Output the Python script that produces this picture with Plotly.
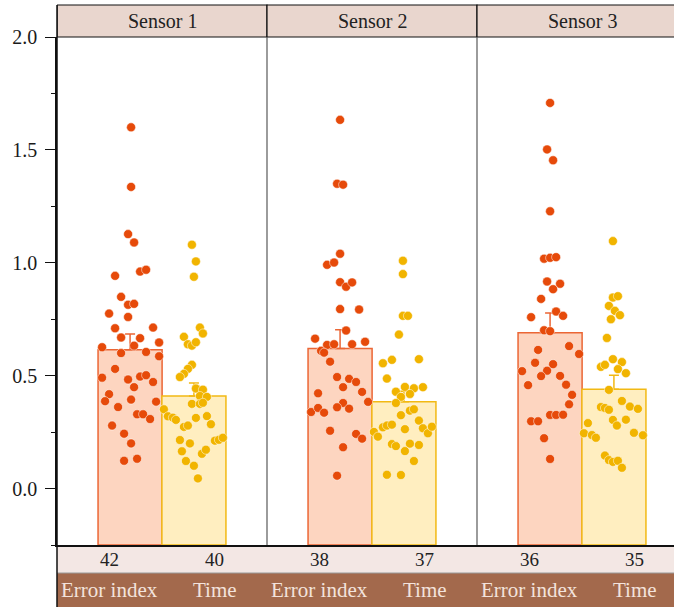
import plotly.graph_objects as go

sensors = ["Sensor 1", "Sensor 2", "Sensor 3"]
measures = ["Error index", "Time"]
counts = [[42, 40], [38, 37], [36, 35]]
means = [[0.615, 0.41], [0.62, 0.384], [0.69, 0.44]]
sems = [[0.07, 0.057], [0.083, 0.047], [0.088, 0.062]]

s1_err = [1.60, 1.336, 1.127, 1.09, 0.942, 0.961, 0.969, 0.849, 0.814, 0.818, 0.775, 0.76, 0.71, 0.713,
          0.669, 0.666, 0.626, 0.633, 0.647, 0.60, 0.605, 0.586, 0.53, 0.491, 0.483, 0.496, 0.502, 0.472,
          0.449, 0.418, 0.387, 0.394, 0.385, 0.361, 0.329, 0.329, 0.308, 0.279, 0.243, 0.20, 0.123, 0.132]
s1_err_j = [1, 1, -2, 4, -15, 10, 16, -9, -2, 4, -21, -2, -15, 23, -9, 10, -28, 4, 29, -9, 16, 29, -15, -28,
            -2, 10, 16, 23, 4, -21, -25, 1, 26, -12, 7, 13, 20, -18, -6, 1, -6, 7]
s1_time = [1.08, 1.006, 0.938, 0.713, 0.687, 0.672, 0.639, 0.633, 0.648, 0.548, 0.53, 0.508, 0.494, 0.443,
           0.438, 0.41, 0.406, 0.375, 0.375, 0.38, 0.351, 0.32, 0.314, 0.304, 0.313, 0.321, 0.285, 0.273,
           0.279, 0.215, 0.20, 0.212, 0.216, 0.225, 0.165, 0.154, 0.172, 0.122, 0.101, 0.045]
s1_time_j = [-2, 2, 0, 6, 9, -10, -6, -2, 2, -2, -6, -10, -14, 2, 9, 6, 13, -2, 6, 9, -30, -26, -21, -18, 2,
             13, 17, -10, -6, -14, -4, 21, 25, 29, -12, 8, 12, -8, 0, 4]
s2_err = [1.633, 1.35, 1.346, 1.04, 0.991, 1.001, 0.914, 0.894, 0.913, 0.795, 0.793, 0.70, 0.664, 0.636,
          0.639, 0.639, 0.65, 0.61, 0.602, 0.562, 0.494, 0.486, 0.472, 0.449, 0.428, 0.422, 0.384, 0.379,
          0.339, 0.357, 0.336, 0.36, 0.354, 0.256, 0.242, 0.221, 0.183, 0.057]
s2_err_j = [0, -3, 3, 0, -13, -6, 0, 6, 12, 0, 19, 6, -25, -13, -6, 12, 25, -19, -16, -10, -3, 9, 16, 3, 22,
            -22, 28, 3, -29, -22, -16, -3, 9, -10, 16, 22, 3, -3]
s2_time = [1.009, 0.95, 0.765, 0.765, 0.682, 0.555, 0.57, 0.573, 0.487, 0.429, 0.45, 0.444, 0.449, 0.406,
           0.419, 0.379, 0.345, 0.351, 0.325, 0.301, 0.251, 0.23, 0.271, 0.279, 0.283, 0.263, 0.267, 0.245,
           0.274, 0.197, 0.188, 0.199, 0.193, 0.166, 0.122, 0.061, 0.06]
s2_time_j = [-1, -1, -1, 4, -5, -21, -12, 15, -17, -8, 1, 10, 19, -3, 6, -8, 6, 10, -3, 15, -30, -26, -21,
             -17, -12, 1, 19, 24, 28, -12, -8, 6, 15, 1, 10, -17, -3]
s3_err = [1.708, 1.502, 1.454, 1.228, 1.018, 1.022, 1.025, 0.917, 0.907, 0.883, 0.84, 0.784, 0.759, 0.765,
          0.701, 0.697, 0.614, 0.631, 0.596, 0.557, 0.551, 0.52, 0.522, 0.498, 0.499, 0.458, 0.46, 0.415,
          0.373, 0.326, 0.326, 0.327, 0.298, 0.298, 0.223, 0.131]
s3_err_j = [0, -3, 3, 0, -6, 0, 6, -3, 10, 3, -9, 6, -19, 13, -6, 0, -12, 19, 29, -15, 3, -28, -3, -9, 10,
            -22, 16, 22, 19, 0, 6, 13, -19, -12, -6, 0]
s3_time = [1.096, 0.846, 0.852, 0.809, 0.787, 0.768, 0.75, 0.667, 0.573, 0.539, 0.548, 0.56, 0.529, 0.511,
           0.437, 0.388, 0.361, 0.357, 0.349, 0.363, 0.353, 0.29, 0.304, 0.279, 0.305, 0.245, 0.237, 0.225,
           0.247, 0.236, 0.146, 0.126, 0.118, 0.123, 0.092]
s3_time_j = [-1, -1, 4, -5, 1, 6, -3, -7, -1, -13, -9, 8, 4, 12, -5, 8, -13, -9, -5, 16, 24, -26, -1, 3, 12,
             -30, -22, -18, 20, 29, -9, -5, -1, 4, 8]

points = [[(s1_err, s1_err_j), (s1_time, s1_time_j)],
          [(s2_err, s2_err_j), (s2_time, s2_time_j)],
          [(s3_err, s3_err_j), (s3_time, s3_time_j)]]

# styling
FONT = "Liberation Serif"
PANEL_PX = 210.0
BAR_W = 0.305
BAR_OFF = 0.152
YMIN, YMAX = -0.25, 2.0
fills = ["#FDD5C0", "#FFEEC0"]
lines = ["#EB6635", "#F2B914"]
dots = ["#E64A0A", "#F1B400"]
W, H = 674, 608
ML, MR, MT, MB = 57, 0, 37, 63
plot_h = H - MT - MB

fig = go.Figure()

for i, s in enumerate(sensors):
    for k, m in enumerate(measures):
        xc = i + 0.5 + (BAR_OFF if k else -BAR_OFF)
        fig.add_trace(go.Bar(
            x=[xc], y=[means[i][k] - YMIN], base=YMIN, width=BAR_W,
            marker=dict(color=fills[k], line=dict(color=lines[k], width=1.5)),
            showlegend=False, hoverinfo="skip"))

for i, s in enumerate(sensors):
    for k, m in enumerate(measures):
        xc = i + 0.5 + (BAR_OFF if k else -BAR_OFF)
        fig.add_trace(go.Scatter(
            x=[xc], y=[means[i][k]], mode="markers",
            marker=dict(size=1, opacity=0),
            error_y=dict(type="data", symmetric=False, array=[sems[i][k]], arrayminus=[0],
                         color=lines[k], thickness=1.5, width=5),
            showlegend=False, hoverinfo="skip"))

for i, s in enumerate(sensors):
    for k, m in enumerate(measures):
        xc = i + 0.5 + (BAR_OFF if k else -BAR_OFF)
        vals, jit = points[i][k]
        fig.add_trace(go.Scatter(
            x=[xc + j / PANEL_PX for j in jit], y=vals, mode="markers",
            marker=dict(size=9, color=dots[k], line=dict(color="white", width=0.5)),
            showlegend=False, name=f"{s} {m}"))

shapes = []
annotations = []
hdr_top = 1 + (MT - 5) / plot_h
row1_bot = -(573 - 545) / plot_h
row2_bot = -(607 - 545) / plot_h
xmax = (W - ML) / PANEL_PX

for i, s in enumerate(sensors):
    shapes.append(dict(type="rect", xref="x", yref="paper", x0=i, x1=i + 1, y0=1, y1=hdr_top,
                       fillcolor="#E9D6CE", line=dict(color="#111", width=1.2), layer="below"))
    annotations.append(dict(x=i + 0.5, y=(1 + hdr_top) / 2, xref="x", yref="paper", text=s,
                            xanchor="center", yanchor="middle",
                            showarrow=False, font=dict(family=FONT, size=20, color="#222")))
    if i > 0:
        shapes.append(dict(type="line", xref="x", yref="y", x0=i, x1=i, y0=YMIN, y1=YMAX,
                           line=dict(color="#666", width=1.3)))
    for k, m in enumerate(measures):
        xc = i + 0.25 + 0.5 * k
        annotations.append(dict(x=xc, y=row1_bot / 2, xref="x", yref="paper", text=str(counts[i][k]),
                                xanchor="center", yanchor="middle",
                                showarrow=False, font=dict(family=FONT, size=19, color="#222")))
        annotations.append(dict(x=xc, y=(row1_bot + row2_bot) / 2, xref="x", yref="paper", text=m,
                                xanchor="center", yanchor="middle",
                                showarrow=False, font=dict(family=FONT, size=21, color="#F3E3DC")))

shapes.append(dict(type="rect", xref="paper", yref="paper", x0=0, x1=1, y0=row1_bot, y1=0,
                   fillcolor="#F3E7E4", line=dict(width=0), layer="below"))
shapes.append(dict(type="rect", xref="paper", yref="paper", x0=0, x1=1, y0=row2_bot, y1=row1_bot,
                   fillcolor="#A3694C", line=dict(width=0), layer="below"))
shapes.append(dict(type="line", xref="paper", yref="paper", x0=0, x1=1, y0=row1_bot, y1=row1_bot,
                   line=dict(color="#999", width=1)))
shapes.append(dict(type="line", xref="paper", yref="paper", x0=0, x1=0, y0=row2_bot, y1=hdr_top,
                   line=dict(color="#111", width=1.5)))

fig.update_layout(
    width=W, height=H, margin=dict(l=ML, r=MR, t=MT, b=MB, pad=0),
    paper_bgcolor="white", plot_bgcolor="white", barmode="overlay",
    shapes=shapes, annotations=annotations,
    xaxis=dict(range=[0, xmax], showgrid=False, zeroline=False, showticklabels=False, ticks="",
               showline=True, linecolor="#111", linewidth=1.5, fixedrange=True),
    yaxis=dict(range=[YMIN, YMAX], showgrid=False, zeroline=False, tickvals=[0, 0.5, 1.0, 1.5, 2.0],
               tickformat=".1f", ticks="outside", ticklen=10, tickwidth=1.2, tickcolor="#111",
               showline=True, linecolor="#111", linewidth=1.5, ticklabelstandoff=4,
               tickfont=dict(family=FONT, size=20, color="#1a1a1a"),
               minor=dict(tickvals=[-0.25, 0.25, 0.75, 1.25, 1.75], ticks="outside", ticklen=4,
                          tickwidth=1.2, tickcolor="#111")),
)

fig.write_html("out.html", config={"displayModeBar": False},
               post_script="document.body.style.margin='0';")
